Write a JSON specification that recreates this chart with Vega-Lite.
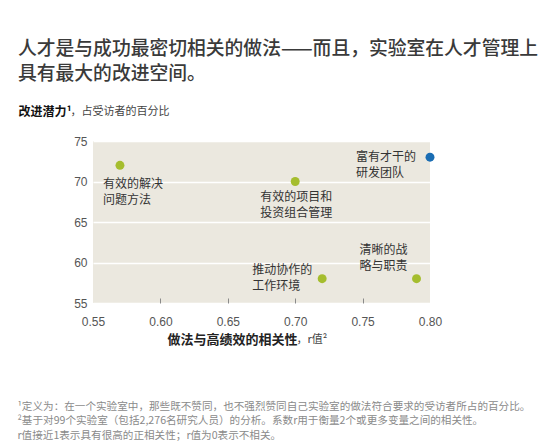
{
  "$schema": "https://vega.github.io/schema/vega-lite/v6.json",
  "description": "Improvement potential vs correlation with high performance, by practice",
  "autosize": {"type": "none"},
  "width": 337,
  "height": 162,
  "padding": {"left": 93, "top": 141, "right": 120, "bottom": 145},
  "background": "white",
  "title": {
    "text": ["人才是与成功最密切相关的做法——而且，实验室在人才管理上", "具有最大的改进空间。"],
    "anchor": "start",
    "frame": "bounds",
    "dx": 1,
    "offset": 21,
    "font": "Noto Sans CJK SC",
    "fontSize": 18.8,
    "fontWeight": 500,
    "lineHeight": 25,
    "color": "#3a3a3a"
  },
  "data": {
    "values": [
      {"practice": "有效的解决问题方法", "label": "有效的解决\n问题方法", "r": 0.57, "pct": 72, "group": "其他"},
      {"practice": "有效的项目和投资组合管理", "label": "有效的项目和\n投资组合管理", "r": 0.70, "pct": 70, "group": "其他"},
      {"practice": "富有才干的研发团队", "label": "富有才干的\n研发团队", "r": 0.80, "pct": 73, "group": "人才"},
      {"practice": "推动协作的工作环境", "label": "推动协作的\n工作环境", "r": 0.72, "pct": 58, "group": "其他"},
      {"practice": "清晰的战略与职责", "label": "清晰的战\n略与职责", "r": 0.79, "pct": 58, "group": "其他"}
    ]
  },
  "encoding": {
    "x": {"field": "r", "type": "quantitative", "scale": {"domain": [0.55, 0.8], "nice": false, "zero": false}, "axis": null},
    "y": {"field": "pct", "type": "quantitative", "scale": {"domain": [55, 75], "nice": false, "zero": false}, "axis": null}
  },
  "layer": [
    {
      "mark": {"type": "circle", "size": 80, "opacity": 1},
      "encoding": {
        "x": {
          "field": "r", "type": "quantitative",
          "scale": {"domain": [0.55, 0.8], "nice": false, "zero": false},
          "axis": {
            "orient": "bottom",
            "values": [0.55, 0.6, 0.65, 0.7, 0.75, 0.8],
            "format": ".2f",
            "domain": false,
            "grid": false,
            "ticks": true,
            "tickSize": -5,
            "tickColor": "#8a8a8a",
            "tickOpacity": {"condition": {"test": "datum.value < 0.56 || datum.value > 0.79", "value": 0}, "value": 1},
            "labelFont": "Liberation Sans",
            "labelFontSize": 12,
            "labelColor": "#555",
            "labelPadding": 18,
            "labelFlush": false,
            "title": "做法与高绩效的相关性",
            "titleFont": "Noto Sans CJK SC",
            "titleFontSize": 13,
            "titleFontWeight": "bold",
            "titleColor": "#222",
            "titleX": 74,
            "titleY": 36,
            "titleAlign": "left",
            "titleBaseline": "middle"
          }
        },
        "y": {
          "field": "pct", "type": "quantitative",
          "scale": {"domain": [55, 75], "nice": false, "zero": false},
          "axis": {
            "orient": "left",
            "values": [55, 60, 65, 70, 75],
            "domain": false,
            "ticks": false,
            "grid": true,
            "gridColor": "white",
            "gridWidth": 1.5,
            "labelFont": "Liberation Sans",
            "labelFontSize": 12,
            "labelColor": "#555",
            "labelPadding": 6,
            "title": "改进潜力¹",
            "titleFont": "Noto Sans CJK SC",
            "titleFontSize": 12,
            "titleFontWeight": "bold",
            "titleColor": "#111",
            "titleAngle": 0,
            "titleX": -75,
            "titleY": -30,
            "titleAlign": "left",
            "titleBaseline": "middle"
          }
        },
        "color": {
          "field": "group", "type": "nominal",
          "scale": {"domain": ["人才", "其他"], "range": ["#1a6db3", "#a5bd2e"]},
          "legend": null
        }
      }
    },
    {
      "transform": [{"filter": "datum.practice === '有效的解决问题方法'"}],
      "mark": {"type": "text", "align": "left", "baseline": "top", "dx": -17, "dy": 14, "font": "Noto Sans CJK SC", "fontSize": 12, "lineHeight": 16, "lineBreak": "\n", "color": "#333"},
      "encoding": {
        "text": {"field": "label"},
        "x": {
          "field": "r", "type": "quantitative",
          "scale": {"domain": [0.55, 0.8], "nice": false, "zero": false},
          "axis": {
            "orient": "bottom",
            "labels": false, "ticks": false, "domain": false, "grid": false,
            "title": [
              "¹定义为：在一个实验室中，那些既不赞同，也不强烈赞同自己实验室的做法符合要求的受访者所占的百分比。",
              "²基于对99个实验室（包括2,276名研究人员）的分析。系数r用于衡量2个或更多变量之间的相关性。",
              " r值接近1表示具有很高的正相关性；r值为0表示不相关。"
            ],
            "titleFont": "Noto Sans CJK SC",
            "titleFontSize": 10.6,
            "titleFontWeight": "normal",
            "titleColor": "#8a8a8a",
            "titleLineHeight": 14.5,
            "titleX": -76,
            "titleY": 98,
            "titleAlign": "left",
            "titleBaseline": "top"
          }
        },
        "y": {
          "field": "pct", "type": "quantitative",
          "scale": {"domain": [55, 75], "nice": false, "zero": false},
          "axis": {
            "orient": "left",
            "labels": false, "ticks": false, "domain": false, "grid": false,
            "title": "，占受访者的百分比",
            "titleFont": "Noto Sans CJK SC",
            "titleFontSize": 11,
            "titleFontWeight": "normal",
            "titleColor": "#444",
            "titleAngle": 0,
            "titleX": -23,
            "titleY": -30,
            "titleAlign": "left",
            "titleBaseline": "middle"
          }
        }
      }
    },
    {
      "transform": [{"filter": "datum.practice === '有效的项目和投资组合管理'"}],
      "mark": {"type": "text", "align": "left", "baseline": "top", "dx": -35, "dy": 10, "font": "Noto Sans CJK SC", "fontSize": 12, "lineHeight": 16, "lineBreak": "\n", "color": "#333"},
      "encoding": {
        "text": {"field": "label"},
        "x": {
          "field": "r", "type": "quantitative",
          "scale": {"domain": [0.55, 0.8], "nice": false, "zero": false},
          "axis": {
            "orient": "bottom",
            "labels": false, "ticks": false, "domain": false, "grid": false,
            "title": "，r值²",
            "titleFont": "Noto Sans CJK SC",
            "titleFontSize": 11,
            "titleFontWeight": "normal",
            "titleColor": "#444",
            "titleX": 203,
            "titleY": 36,
            "titleAlign": "left",
            "titleBaseline": "middle"
          }
        }
      }
    },
    {
      "transform": [{"filter": "datum.practice === '富有才干的研发团队'"}],
      "mark": {"type": "text", "align": "left", "baseline": "top", "dx": -74, "dy": -5, "font": "Noto Sans CJK SC", "fontSize": 12, "lineHeight": 16, "lineBreak": "\n", "color": "#333"},
      "encoding": {"text": {"field": "label"}}
    },
    {
      "transform": [{"filter": "datum.practice === '推动协作的工作环境'"}],
      "mark": {"type": "text", "align": "left", "baseline": "top", "dx": -70, "dy": -14, "font": "Noto Sans CJK SC", "fontSize": 12, "lineHeight": 16, "lineBreak": "\n", "color": "#333"},
      "encoding": {"text": {"field": "label"}}
    },
    {
      "transform": [{"filter": "datum.practice === '清晰的战略与职责'"}],
      "mark": {"type": "text", "align": "left", "baseline": "top", "dx": -57, "dy": -34, "font": "Noto Sans CJK SC", "fontSize": 12, "lineHeight": 16, "lineBreak": "\n", "color": "#333"},
      "encoding": {"text": {"field": "label"}}
    }
  ],
  "resolve": {"axis": {"x": "independent", "y": "independent"}},
  "config": {
    "view": {"fill": "#ebe8df", "stroke": null},
    "text": {"font": "Noto Sans CJK SC"}
  }
}
